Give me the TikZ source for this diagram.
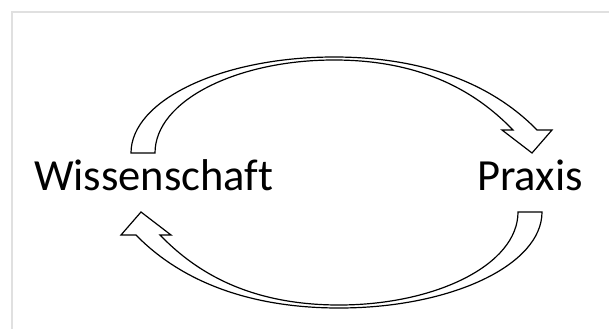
\documentclass[tikz,border=0pt]{standalone}
\usepackage{fontspec}
\setmainfont{Carlito}[Ligatures=NoCommon]
\begin{document}
\begin{tikzpicture}[x=1pt,y=-1pt,
  frameline/.style={draw=black!12,line width=2pt},
  bentarrow/.style={draw=black,line width=1.2pt,fill=white,line join=miter},
  label/.style={inner sep=0pt,anchor=base west,font=\fontsize{44.5}{52}\selectfont}]
\useasboundingbox (0,0) rectangle (609,329);
\draw[frameline] (11,12) -- (609,12);
\draw[frameline] (12,12) -- (12,329);
\node[label] (w) at (34,190) {Wissenschaft};
\node[label] (p) at (477,190) {Praxis};
\def\arrowshape{(131,153) .. controls (131,100) and (222,57) .. (334,57)
  .. controls (444,57) and (505,97) .. (537,130)
  -- (552,130) -- (532,153) -- (502,130) -- (513,130)
  .. controls (482,98) and (430,60) .. (334,60)
  .. controls (238,60) and (155,100) .. (155,153) -- cycle}
\draw[bentarrow] \arrowshape;
\begin{scope}[rotate around={180:(336.5,182.5)}]
\draw[bentarrow] \arrowshape;
\end{scope}
\end{tikzpicture}
\end{document}
